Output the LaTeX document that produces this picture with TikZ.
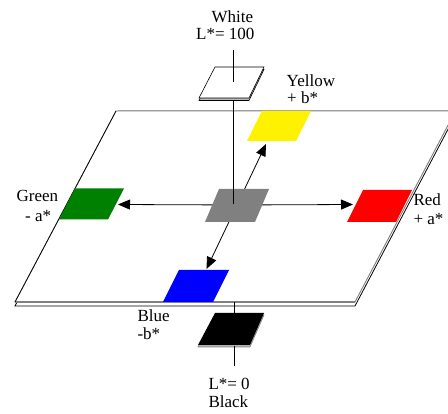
\documentclass[tikz,border=0pt]{standalone}
\usepackage{fontspec}
\setmainfont{Liberation Serif}
\newfontfamily\labelfont{Liberation Serif}
\usetikzlibrary{arrows.meta}
\tikzset{
  lbl/.style={anchor=base west, inner sep=0pt, font=\labelfont\fontsize{17}{18}\selectfont},
  axisline/.style={black, line width=0.8pt},
  dirarrow/.style={black, line width=0.8pt, -{Triangle[length=12pt,width=10pt]}},
}
\begin{document}
\begin{tikzpicture}[x=1pt,y=-1pt]
\useasboundingbox (0,0) rectangle (448,414);

% ---- the a*b* plane, drawn as a thin slab ----
\filldraw[fill=white, draw=black, line width=0.8pt]
  (15,306) -- (355,306) -- (457.6,111) -- (118,111) -- cycle;
\filldraw[fill=white, draw=gray, line width=0.9pt]
  (116,111) -- (455.5,111) -- (355,302) -- (15,302) -- cycle;
\draw[gray, line width=1.6pt] (15,302) -- (355,302);
\draw[black, line width=0.7pt] (15,302) -- (116,111);

% ---- reference points ----
\coordinate (Ltop) at (233,50);
\coordinate (white) at (233,82.5);
\coordinate (whiteB) at (233,98);
\coordinate (axis0) at (233,204.5);
\coordinate (gray) at (237,205);
\coordinate (planeB) at (234,302);
\coordinate (blackT) at (234,313);
\coordinate (blackB) at (234,346);
\coordinate (Lbot) at (234,366);
\coordinate (green-e) at (118,204.5);
\coordinate (red-w) at (353,204.5);
\coordinate (yellow-s) at (266,144);
\coordinate (blue-n) at (206.5,269);

% ---- chroma arrows (start hidden under the grey patch) ----
\draw[dirarrow] (gray) -- (green-e);
\draw[dirarrow] (gray) -- (red-w);
\draw[dirarrow] (gray) -- (yellow-s);
\draw[dirarrow] (gray) -- (blue-n);

% ---- colour patches on the plane ----
\fill[green!50!black] (75,188.5) -- (124,188.5) -- (108,219.5) -- (59,219.5) -- cycle;
\fill[red] (363,190) -- (412,190) -- (396,222) -- (347,222) -- cycle;
\fill[yellow] (262,111) -- (311,111) -- (296,141) -- (247,141) -- cycle;
\fill[blue] (179,270) -- (229,270) -- (213,302) -- (163,302) -- cycle;
\fill[gray] (219,189) -- (269,189) -- (255,222) -- (205,222) -- cycle;

% ---- lightness axis, upper part ----
\draw[axisline] (whiteB) -- (axis0);
\filldraw[fill=gray!55, draw=black, line width=0.6pt]
  (215,69.5) -- (264,69.5) -- (249,100.5) -- (199,100.5) -- cycle;
\filldraw[fill=white, draw=black, line width=0.6pt]
  (215,67) -- (264,67) -- (249,98) -- (199,98) -- cycle;
\draw[axisline] (Ltop) -- (white);

% ---- lightness axis, lower part ----
\draw[axisline] (planeB) -- (blackT);
\filldraw[fill=gray!60, draw=gray, line width=0.6pt]
  (215,315) -- (264,315) -- (250,347) -- (198,347) -- cycle;
\fill[black] (215,313) -- (264,313) -- (250,345) -- (198,345) -- cycle;
\draw[axisline] (blackB) -- (Lbot);

% ---- labels ----
\node[lbl] (tWhite) at (211.5,22.7) {White};
\node[lbl] (tL100) at (196,40) {L*= 100};
\node[lbl] (tYellow) at (286.5,86.5) {Yellow};
\node[lbl] (tPb) at (287,104) {+ b*};
\node[lbl] (tGreen) at (16.5,201.7) {Green};
\node[lbl] (tMa) at (25,221.7) {- a*};
\node[lbl] (tRed) at (413.3,206) {Red};
\node[lbl] (tPa) at (413.3,225) {+ a*};
\node[lbl] (tBlue) at (137.3,321.7) {Blue};
\node[lbl] (tMb) at (137.3,340) {-b*};
\node[lbl] (tL0) at (208.3,390) {L*= 0};
\node[lbl] (tBlack) at (208.3,408) {Black};
\end{tikzpicture}
\end{document}
